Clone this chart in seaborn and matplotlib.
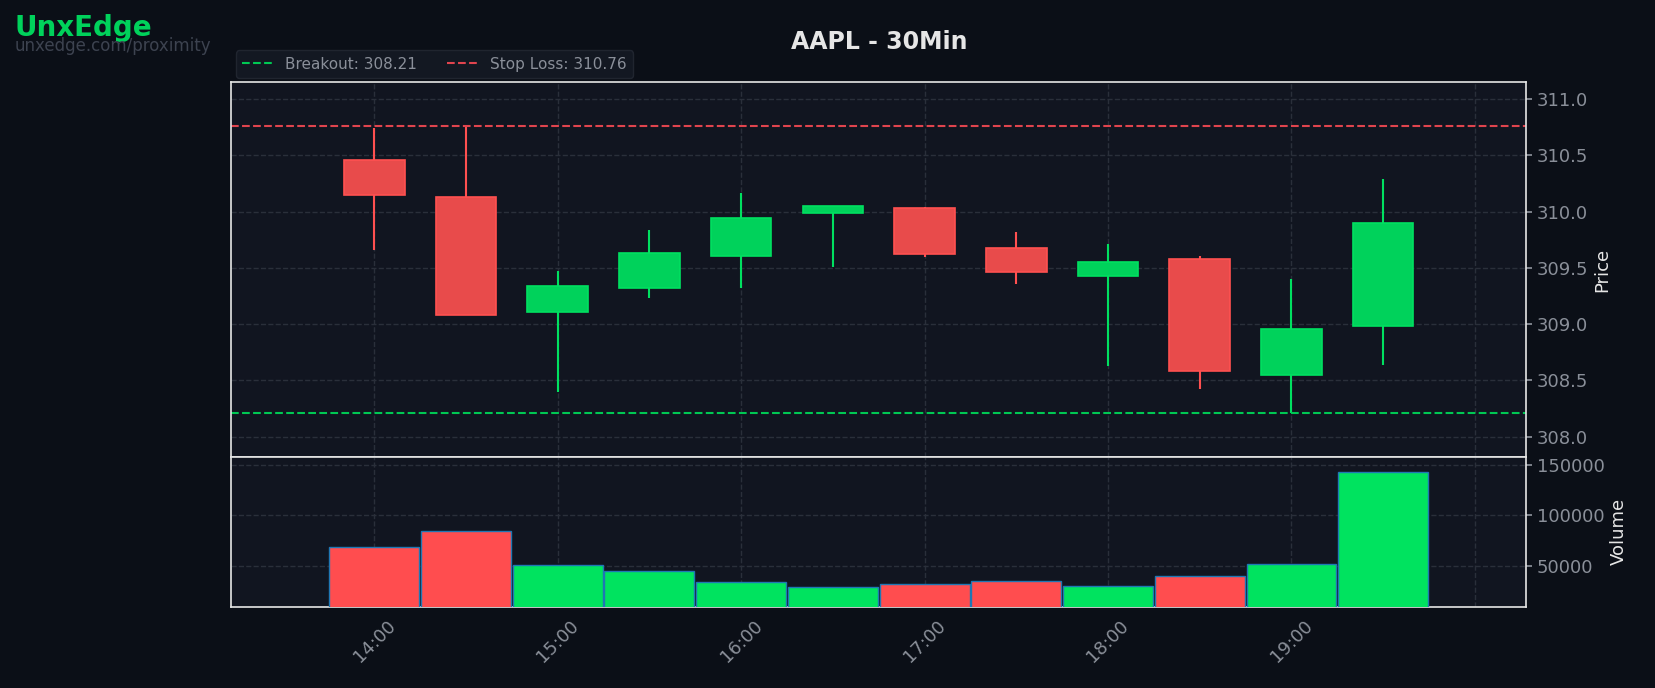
import matplotlib
matplotlib.use("Agg")
import matplotlib.pyplot as plt
import seaborn as sns
import numpy as np

times = [14.0, 14.5, 15.0, 15.5, 16.0, 16.5, 17.0, 17.5, 18.0, 18.5, 19.0, 19.5]
opens = [310.46, 310.13, 309.11, 309.32, 309.61, 309.99, 310.03, 309.68, 309.43, 309.58, 308.55, 308.98]
closes = [310.15, 309.08, 309.34, 309.63, 309.94, 310.05, 309.62, 309.46, 309.55, 308.58, 308.96, 309.90]
highs = [310.74, 310.77, 309.47, 309.84, 310.17, 310.05, 310.04, 309.82, 309.71, 309.61, 309.40, 310.29]
lows = [309.66, 309.08, 308.40, 309.23, 309.32, 309.51, 309.60, 309.36, 308.63, 308.42, 308.21, 308.64]
volumes = [68400, 84200, 50500, 44200, 33700, 28400, 31600, 34700, 29500, 40000, 51600, 143000]
breakout = 308.21
stop_loss = 310.76
tick_hours = [14, 15, 16, 17, 18, 19, 20]
tick_labels = ["14:00", "15:00", "16:00", "17:00", "18:00", "19:00", ""]

sns.set_theme(style="dark")
plt.rcParams['font.family'] = ['DejaVu Sans']
BG = "#0b0f17"; AX = "#111520"; GRID = "#2a2f3a"; TXT = "#8a8f99"
GREEN = "#00d25b"; RED = "#e84b4b"; VG = "#00e35f"; VR = "#ff4d4f"

fig = plt.figure(figsize=(16.55, 6.88), dpi=100, facecolor=BG)
axp = fig.add_axes([0.1397, 0.3359, 0.7825, 0.5445])
axv = fig.add_axes([0.1397, 0.1181, 0.7825, 0.2178], sharex=axp)

for ax in (axp, axv):
    ax.set_facecolor(AX)
    for s in ax.spines.values():
        s.set_color("#e6e6e6"); s.set_linewidth(1.2)
    ax.grid(True, color=GRID, linestyle="--", linewidth=1)
    ax.yaxis.tick_right(); ax.yaxis.set_label_position("right")
    ax.tick_params(colors=TXT, labelsize=13, length=4)

w = 0.33
for t, o, c, h, l in zip(times, opens, closes, highs, lows):
    col = GREEN if c >= o else RED
    ec = "#00e060" if c >= o else "#ff5050"
    axp.vlines(t, l, h, color=ec, linewidth=1.5, zorder=2)
    axp.bar(t, abs(c - o), bottom=min(o, c), width=w, color=col, edgecolor=ec, linewidth=1.2, zorder=3)

axp.axhline(breakout, color="#00c853", linestyle="--", linewidth=1.5, label=f"Breakout: {breakout:.2f}")
axp.axhline(stop_loss, color="#e0444e", linestyle="--", linewidth=1.5, label=f"Stop Loss: {stop_loss:.2f}")
axp.set_ylim(307.82, 311.15)
axp.set_yticks(np.arange(308.0, 311.01, 0.5))
axp.yaxis.set_major_formatter(matplotlib.ticker.FormatStrFormatter("%.1f"))
axp.set_ylabel("Price", color="#e6e6e6", fontsize=13)
plt.setp(axp.get_xticklabels(), visible=False)
axp.tick_params(axis="x", length=0)
leg = axp.legend(loc="lower left", bbox_to_anchor=(0, 1.0), ncol=2, fontsize=11, frameon=True,
                 facecolor="#161b26", edgecolor="#252a35", labelcolor=TXT, borderaxespad=0.3)

vcols = [VG if c >= o else VR for o, c in zip(opens, closes)]
axv.bar(times, volumes, width=0.49, color=vcols, edgecolor="#1f77b4", linewidth=1, zorder=3)
axv.set_ylim(9000, 158000)
axv.set_yticks([50000, 100000, 150000])
axv.set_ylabel("Volume", color="#e6e6e6", fontsize=13)
axv.set_xlim(13.22, 20.28)
axv.set_xticks(tick_hours)
axv.set_xticklabels(tick_labels, rotation=45, fontsize=13, color=TXT)

fig.text(0.531, 0.939, "AAPL - 30Min", ha="center", va="center", fontsize=17, fontweight="bold", color="#e6e6e6")
fig.text(0.009, 0.96, "UnxEdge", ha="left", va="center", fontsize=20, fontweight="bold", color="#00d25b")
fig.text(0.009, 0.933, "unxedge.com/proximity", ha="left", va="center", fontsize=12, color="#3d4350")

fig.savefig("out.png", dpi=100, facecolor=BG)
